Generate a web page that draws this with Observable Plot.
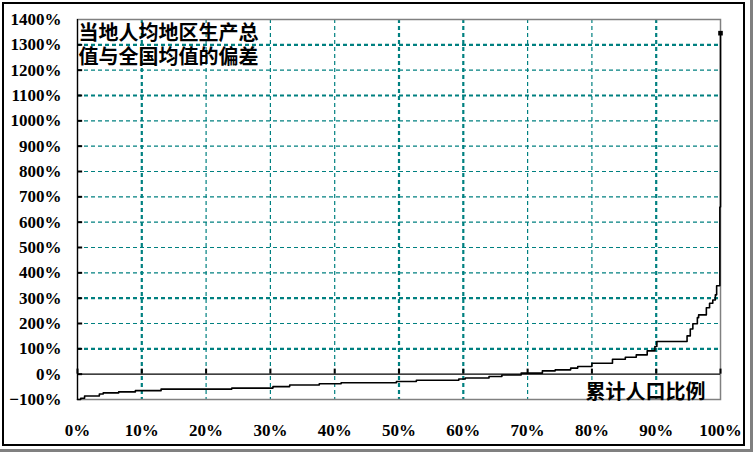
<!DOCTYPE html>
<html>
<head>
<meta charset="utf-8">
<script src="https://cdn.jsdelivr.net/npm/d3@7"></script>
<script src="https://cdn.jsdelivr.net/npm/@observablehq/plot@0.6"></script>
<style>
  html, body { margin: 0; padding: 0; background: #fff; }
  #wrap { position: relative; width: 753px; height: 452px; overflow: hidden; }
  #border { position: absolute; left: 2px; top: 2px; width: 743px; height: 444px; box-sizing: border-box; border: 2px solid #000; pointer-events: none; }
  #shadowR { position: absolute; left: 750px; top: 0; width: 3px; height: 452px; background: #808080; }
  #shadowB { position: absolute; left: 0; top: 449px; width: 753px; height: 3px; background: #808080; }
  #chart { position: absolute; left: 0; top: 0; }
</style>
</head>
<body>
<div id="wrap">
  <div id="chart"></div>
  <div id="border"></div>
  <div id="shadowR"></div>
  <div id="shadowB"></div>
</div>
<script>
// Tick values
const xTicks = [0, 10, 20, 30, 40, 50, 60, 70, 80, 90, 100];
const yTicks = [-100, 0, 100, 200, 300, 400, 500, 600, 700, 800, 900, 1000, 1100, 1200, 1300, 1400];
const gridX = [10, 20, 30, 40, 50, 60, 70, 80, 90];
const gridY = [100, 200, 300, 400, 500, 600, 700, 800, 900, 1000, 1100, 1200, 1300];

// Cumulative population share (%) and deviation of local per-capita GRP from national mean (%)
const popShare = [0.0, 0.5, 1.1, 3.4, 4.0, 6.4, 9.0, 13.0, 24.0, 30.4, 33.0, 37.6, 41.0, 49.6, 52.7, 59.3, 60.3, 64.0, 66.0, 69.0, 72.3, 74.3, 76.7, 77.8, 80.0, 83.2, 85.2, 86.9, 88.6, 89.8, 90.1, 93.8, 94.8, 95.3, 95.7, 96.4, 96.6, 97.8, 98.3, 98.8, 99.2, 99.4, 99.9, 100];
const gapPct   = [-100, -95, -86, -78, -74, -70, -65, -59, -55, -49, -43, -38, -34, -29, -24, -19, -15, -9, -3, 4, 13, 17, 24, 30, 43, 59, 67, 76, 92, 109, 129, 129, 151, 178, 199, 223, 234, 262, 280, 293, 313, 349, 660, 1346];

const titleText = "当地人均地区生产总\n值与全国均值的偏差";
const xLabelText = "累计人口比例";

const data = popShare.map((x, i) => ({x, y: gapPct[i]}));
const last = [data[data.length - 1]];

const boldY = new Set([100, 300, 1100, 1300]);
const boldX = new Set([10, 50, 60, 90]);
const teal = "#008080";
const fmt = d => (d < 0 ? "\u2212" : "") + Math.abs(d) + "%";
const cjk = "Noto Sans CJK SC";
const serif = "'Liberation Serif', 'DejaVu Serif', serif";

const chart = Plot.plot({
  width: 753,
  height: 452,
  marginLeft: 77,
  marginRight: 33,
  marginTop: 19,
  marginBottom: 53,
  style: `font-family: ${serif}; font-size: 17px; font-weight: bold; color: #000; background: transparent;`,
  x: {domain: [0, 100], axis: null},
  y: {domain: [-100, 1400], axis: null},
  marks: [
    Plot.ruleY(gridY, {stroke: teal, strokeDasharray: "4,3", strokeWidth: d => boldY.has(d) ? 2.2 : 1.2}),
    Plot.ruleX(gridX, {stroke: teal, strokeDasharray: "4,3", strokeWidth: d => boldX.has(d) ? 2.2 : 1.2}),
    Plot.frame({stroke: "#808080", strokeWidth: 1.5}),
    Plot.ruleX([0], {stroke: "#000", strokeWidth: 1.2}),
    Plot.ruleY([0], {stroke: "#000", strokeWidth: 1.2}),
    Plot.ruleY(yTicks.filter(d => d > -100 && d < 1400), {x1: 0, x2: 0.8, stroke: "#000", strokeWidth: 2}),
    Plot.ruleX(xTicks, {y1: 0, y2: 20, stroke: "#000", strokeWidth: 2}),
    Plot.line(data, {x: "x", y: "y", curve: "step-after", stroke: "#000", strokeWidth: 1.6}),
    Plot.dot(last, {x: "x", y: "y", symbol: "square", r: 2.6, fill: "#000", stroke: "none"}),
    Plot.text([titleText], {frameAnchor: "top-left", textAnchor: "start", lineAnchor: "top", dx: 1, dy: 3, fontFamily: cjk, fontSize: 20, fontWeight: "bold", lineHeight: 1.22, fill: "#000"}),
    Plot.text([xLabelText], {frameAnchor: "bottom-right", textAnchor: "end", lineAnchor: "bottom", dx: -15, dy: -1, fontFamily: cjk, fontSize: 20, fontWeight: "bold", fill: "#000"}),
    Plot.axisY({ticks: yTicks, tickFormat: fmt, tickSize: 0, tickPadding: 16, label: null, fontFamily: serif, fontSize: 17, fontWeight: "bold"}),
    Plot.axisX({ticks: xTicks, tickFormat: fmt, tickSize: 0, tickPadding: 24, label: null, fontFamily: serif, fontSize: 17, fontWeight: "bold"})
  ]
});
document.getElementById("chart").appendChild(chart);
</script>
</body>
</html>
